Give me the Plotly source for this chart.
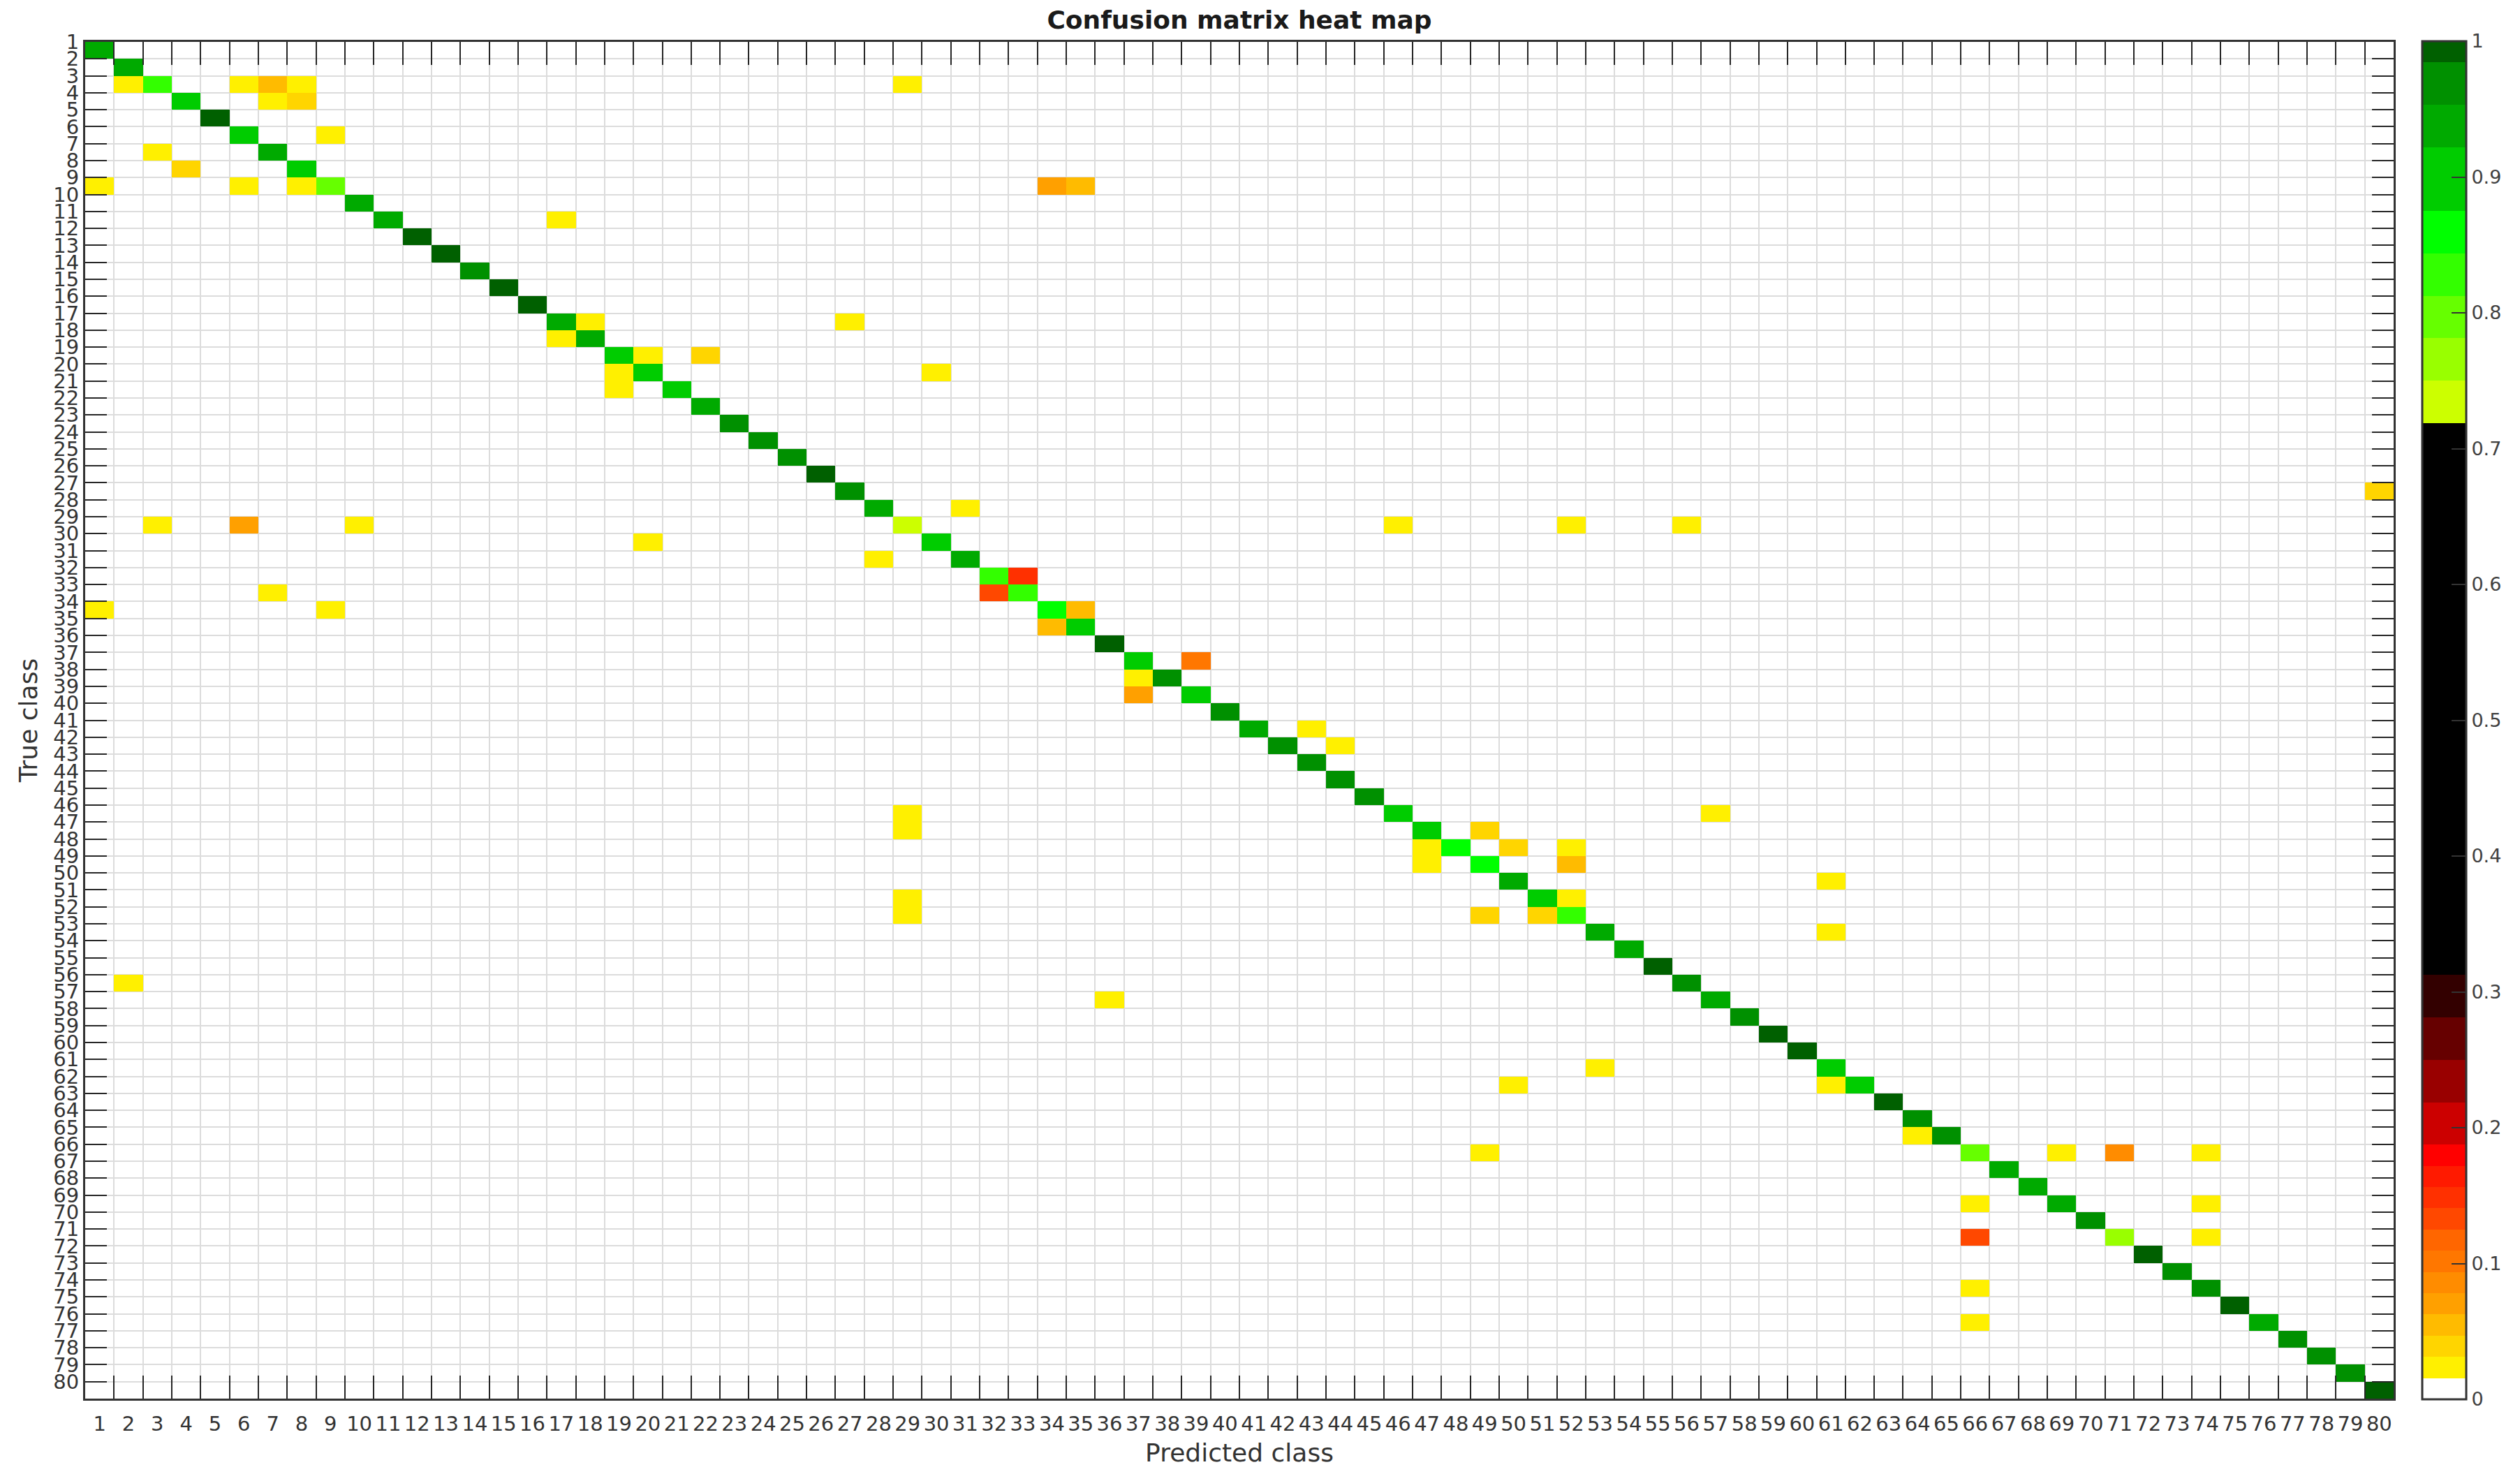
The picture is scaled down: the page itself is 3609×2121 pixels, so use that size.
import numpy as np
import plotly.graph_objects as go

n_classes = 80
class_labels = [str(i) for i in range(1, n_classes + 1)]

# diagonal of the matrix
diagonal = [
    .94, .94, .83, .90, .99, .90, .94, .90, .80, .94,
    .94, .99, .99, .97, .99, .99, .94, .94, .90, .90,
    .90, .94, .97, .97, .97, .99, .97, .94, .73, .90,
    .94, .83, .83, .86, .90, .99, .90, .97, .90, .97,
    .94, .97, .97, .97, .97, .90, .90, .86, .86, .94,
    .90, .83, .94, .94, .99, .97, .94, .97, .99, .99,
    .90, .90, .99, .97, .97, .80, .94, .94, .94, .97,
    .77, .99, .97, .97, .99, .94, .97, .97, .97, .99,
]

# off diagonal cells: true class, predicted class, value
off_true = [
    3, 3, 3, 3, 3,
    4, 4, 6, 7, 8,
    9, 9, 9, 9, 9,
    11, 17, 17, 18, 19, 19,
    20, 20, 21, 27, 28,
    29, 29, 29, 29, 29, 29,
    30, 31, 32, 33, 33,
    34, 34, 34, 35, 37, 38, 39,
    41, 42, 46, 46, 47, 47,
    48, 48, 48, 49, 49, 50,
    51, 51, 52, 52, 52, 53,
    56, 57, 61, 62, 62, 65,
    66, 66, 66, 66, 69, 69,
    71, 71, 74, 76,
]
off_pred = [
    2, 6, 7, 8, 29,
    7, 8, 9, 3, 4,
    1, 6, 8, 34, 35,
    17, 18, 27, 17, 20, 22,
    19, 30, 19, 80, 31,
    3, 6, 10, 46, 52, 56,
    20, 28, 33, 32, 7,
    35, 1, 9, 34, 39, 37, 37,
    43, 44, 29, 57, 29, 49,
    47, 50, 52, 47, 52, 61,
    29, 52, 29, 49, 51, 61,
    2, 36, 53, 50, 61, 64,
    49, 69, 71, 74, 66, 74,
    66, 74, 66, 66,
]
off_val = [
    .023, .023, .055, .023, .023,
    .023, .039, .023, .023, .039,
    .023, .023, .023, .07, .055,
    .023, .023, .023, .023, .023, .039,
    .023, .023, .023, .039, .023,
    .023, .07, .023, .023, .023, .023,
    .023, .023, .148, .133, .023,
    .055, .023, .023, .055, .10, .023, .07,
    .023, .023, .023, .023, .023, .039,
    .023, .039, .023, .023, .055, .023,
    .023, .023, .023, .039, .039, .023,
    .023, .023, .023, .023, .023, .023,
    .023, .023, .086, .023, .023, .023,
    .133, .023, .023, .023,
]

# 64 level map, bands given as [first level, last level + 1, colour]
bands = [
    (0, 1, '#ffffff'), (1, 2, '#fff000'), (2, 3, '#ffd500'), (3, 4, '#ffbb00'),
    (4, 5, '#ffa000'), (5, 6, '#ff8c00'), (6, 7, '#ff7700'), (7, 8, '#ff6600'),
    (8, 9, '#ff4800'), (9, 10, '#ff3000'), (10, 11, '#ff1a00'), (11, 12, '#ff0000'),
    (12, 14, '#cc0000'), (14, 16, '#990000'), (16, 18, '#660000'), (18, 20, '#330000'),
    (20, 46, '#000000'), (46, 48, '#ccff00'), (48, 50, '#99ff00'), (50, 52, '#66ff00'),
    (52, 54, '#33ff00'), (54, 56, '#00ff00'), (56, 59, '#00cc00'), (59, 61, '#00aa00'),
    (61, 63, '#009000'), (63, 64, '#006000'),
]
colorscale = []
for lo, hi, col in bands:
    colorscale.append([lo / 64, col])
    colorscale.append([hi / 64, col])

# empty cells stay gaps so the grid shows through them
z = np.full((n_classes, n_classes), np.nan)
for i in range(n_classes):
    z[i, i] = diagonal[i]
for t, p, v in zip(off_true, off_pred, off_val):
    z[t - 1, p - 1] = v

bar_ticks = [0, .1, .2, .3, .4, .5, .6, .7, .8, .9, 1]

fig = go.Figure(go.Heatmap(
    x=class_labels, y=list(range(1, n_classes + 1)), z=z.tolist(),
    zmin=0, zmax=1, colorscale=colorscale, hoverongaps=False,
    colorbar=dict(
        thicknessmode='pixels', thickness=63, lenmode='fraction', len=1.001,
        x=1.012, xanchor='left', xpad=0, y=0.5, yanchor='middle', ypad=0,
        outlinecolor='#333333', outlinewidth=3,
        tickmode='array', tickvals=bar_ticks, ticktext=[str(t) for t in bar_ticks],
        ticks='inside', ticklen=22, tickwidth=2, tickcolor='#333333',
        tickfont=dict(size=27, color='#404040'),
    ),
))

# the page body adds 8px on the top and left, margins allow for that
fig.update_layout(
    width=3609, height=2121,
    margin=dict(l=114, r=188, t=52, b=126),
    paper_bgcolor='white', plot_bgcolor='white',
    font=dict(family='DejaVu Sans', color='#333333'),
    title=dict(text='<b>Confusion matrix heat map</b>', x=1767 / 3609, xanchor='center',
               y=1 - 20 / 2121, yanchor='middle', font=dict(size=36, color='#1a1a1a')),
)
fig.update_xaxes(
    type='category', tickson='boundaries', categoryorder='array', categoryarray=class_labels,
    tickmode='array', tickvals=class_labels, ticktext=class_labels, tickangle=0,
    ticks='inside', ticklen=33, tickwidth=2, tickcolor='#262626',
    showgrid=True, gridcolor='#dcdcdc', gridwidth=2,
    showline=True, linecolor='#333333', linewidth=3, mirror='ticks',
    tickfont=dict(size=29, color='#333333'), ticklabelstandoff=8,
    title=dict(text='Predicted class', font=dict(size=36, color='#333333'), standoff=14),
)
fig.update_yaxes(
    range=[n_classes + 0.5, 0.5],
    tickmode='array', tickvals=[i + 0.5 for i in range(n_classes)], ticktext=class_labels,
    ticks='inside', ticklen=31, tickwidth=2, tickcolor='#262626',
    showgrid=True, gridcolor='#dcdcdc', gridwidth=2, zeroline=False,
    showline=True, linecolor='#333333', linewidth=3, mirror='ticks',
    tickfont=dict(size=29, color='#333333'),
    title=dict(text='True class', font=dict(size=36, color='#333333'), standoff=12),
)

fig.write_html("out.html")
